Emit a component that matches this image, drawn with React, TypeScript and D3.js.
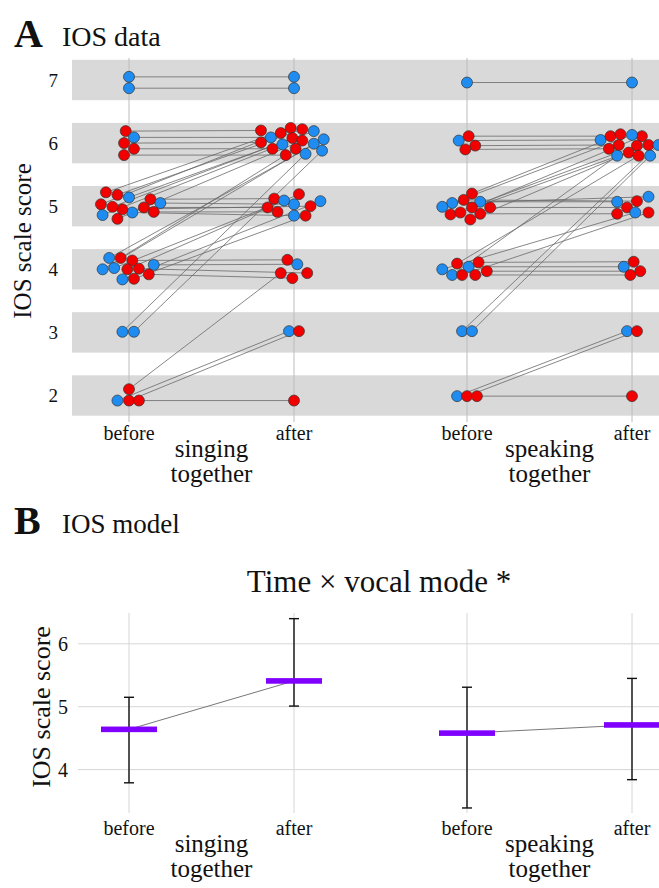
import React from 'react';
import * as d3 from 'd3';

// participant rows: [group, before score, before jitter, after score, after jitter]
// scores carry the vertical jitter seen in the figure, jitter is in units of the before/after spacing
type Row = [string, number, number, number, number];

const singingRows: Row[] = [
  ['b', 7.05, 0, 7.05, 0],
  ['b', 6.87, 0, 6.87, 0],
  ['r', 6.19, -0.02, 6.20, -0.20],
  ['b', 6.09, 0.03, 6.09, -0.14],
  ['r', 6.00, -0.03, 6.01, -0.20],
  ['r', 5.91, 0.03, 5.91, -0.13],
  ['r', 5.81, -0.03, 5.81, -0.05],
  ['r', 5.11, 0.13, 5.12, -0.12],
  ['b', 5.05, 0.19, 5.03, 0.00],
  ['r', 4.91, 0.15, 4.91, -0.10],
  ['r', 4.98, 0.09, 4.98, -0.16],
  ['b', 4.90, 0.02, 4.85, 0.00],
  ['r', 4.95, -0.04, 5.00, 0.10],
  ['r', 5.22, -0.14, 6.24, -0.02],
  ['r', 5.18, -0.07, 6.22, 0.05],
  ['b', 5.14, 0.00, 6.19, 0.12],
  ['r', 5.03, -0.17, 6.16, -0.08],
  ['r', 4.99, -0.10, 6.08, -0.01],
  ['b', 4.86, -0.16, 5.98, -0.07],
  ['r', 4.80, -0.07, 6.04, 0.05],
  ['b', 4.07, 0.15, 4.08, 0.02],
  ['r', 4.14, 0.02, 4.15, -0.04],
  ['r', 4.01, 0.06, 3.94, 0.08],
  ['r', 3.92, 0.12, 3.86, -0.01],
  ['b', 4.18, -0.12, 6.06, 0.18],
  ['r', 4.18, -0.05, 5.91, 0.01],
  ['b', 4.00, -0.16, 5.99, 0.12],
  ['b', 4.02, -0.09, 5.09, -0.06],
  ['r', 4.00, -0.01, 5.19, 0.03],
  ['b', 3.84, -0.04, 5.08, 0.16],
  ['r', 3.85, 0.03, 4.85, 0.07],
  ['b', 3.01, -0.04, 5.83, 0.07],
  ['b', 3.01, 0.03, 5.88, 0.17],
  ['b', 1.92, -0.07, 3.02, -0.03],
  ['r', 2.10, 0, 3.94, -0.08],
  ['r', 1.92, 0, 3.02, 0.03],
  ['r', 1.92, 0.06, 1.92, 0],
];

const speakingRows: Row[] = [
  ['b', 6.96, 0, 6.96, 0],
  ['b', 6.04, -0.05, 6.05, -0.19],
  ['r', 6.11, 0.01, 6.11, -0.13],
  ['r', 5.96, 0.05, 5.97, -0.08],
  ['r', 5.90, -0.01, 5.91, -0.14],
  ['b', 5.07, 0.08, 5.07, -0.09],
  ['b', 5.05, -0.09, 5.15, 0.10],
  ['r', 4.98, 0.14, 4.98, -0.03],
  ['r', 5.10, -0.02, 5.08, 0.03],
  ['r', 4.88, 0.08, 4.88, -0.09],
  ['r', 5.20, 0.03, 6.14, -0.07],
  ['r', 4.98, 0.03, 6.11, 0.06],
  ['r', 4.87, -0.10, 5.96, 0.03],
  ['r', 4.90, -0.04, 5.97, 0.10],
  ['r', 4.79, 0.02, 5.85, -0.02],
  ['b', 4.99, -0.15, 6.13, 0.00],
  ['b', 4.04, 0.01, 4.04, -0.05],
  ['r', 4.11, 0.07, 4.12, 0.01],
  ['r', 3.97, 0.12, 3.97, 0.05],
  ['r', 3.91, 0.05, 3.91, -0.01],
  ['b', 4.00, -0.15, 4.90, 0.02],
  ['r', 4.09, -0.06, 5.80, 0.04],
  ['b', 3.91, -0.09, 5.80, -0.09],
  ['r', 3.91, -0.03, 4.90, 0.10],
  ['b', 3.02, -0.03, 5.97, 0.16],
  ['b', 3.02, 0.03, 5.80, 0.11],
  ['b', 1.99, -0.06, 3.02, -0.03],
  ['r', 1.99, 0, 3.02, 0.03],
  ['r', 1.99, 0.06, 1.99, 0],
];

const modes = ['singing', 'speaking'];
const modeLabels = [['singing', 'together'], ['speaking', 'together']];
const times = ['before', 'after'];
const levels = [2, 3, 4, 5, 6, 7];
const modelTicks = [4, 5, 6];

// model estimates: [mean, lower, upper] per mode, before / after
const modelSinging = [[4.64, 3.79, 5.15], [5.41, 5.01, 6.40]];
const modelSpeaking = [[4.58, 3.39, 5.31], [4.71, 3.84, 5.45]];

const FONT = "'Liberation Serif', 'Times New Roman', serif";
const colors: Record<string, string> = { b: '#1e8cf0', r: '#f20000' };

const W = 659;
const H = 888;

const xMode = d3.scalePoint().domain(modes).range([211.5, 549.5]);
const xTime = d3.scalePoint().domain(times).range([-82.5, 82.5]);
const step = 165;
const xPos = (m: string, t: string, jit = 0) => (xMode(m) as number) + (xTime(t) as number) + jit * step;

const yA = d3.scaleLinear().domain([2, 7]).range([395.5, 80]);
const yB = d3.scaleLinear().domain([3.31, 6.49]).range([813, 613]);

function PanelA() {
  const rowsByMode: [string, Row[]][] = [['singing', singingRows], ['speaking', speakingRows]];
  return (
    <g>
      {levels.map(l => (
        <rect key={l} x={72} width={W - 72} y={yA(l + 0.32)} height={yA(l - 0.32) - yA(l + 0.32)} fill="#d9d9d9" />
      ))}
      {modes.map(m => times.map(t => (
        <line key={m + t} x1={xPos(m, t)} x2={xPos(m, t)} y1={58} y2={422} stroke="#bcbcbc" strokeWidth={1} />
      )))}
      {rowsByMode.map(([m, rows]) => (
        <g key={m}>
          {rows.map((r, i) => (
            <line key={'l' + i} x1={xPos(m, 'before', r[2])} y1={yA(r[1])} x2={xPos(m, 'after', r[4])} y2={yA(r[3])}
              stroke="#6a6a6a" strokeWidth={0.8} />
          ))}
          {rows.map((r, i) => (
            <g key={'p' + i}>
              <circle cx={xPos(m, 'before', r[2])} cy={yA(r[1])} r={5.5} fill={colors[r[0]]} stroke="#333" strokeWidth={0.7} />
              <circle cx={xPos(m, 'after', r[4])} cy={yA(r[3])} r={5.5} fill={colors[r[0]]} stroke="#333" strokeWidth={0.7} />
            </g>
          ))}
        </g>
      ))}
      {levels.map(l => (
        <text key={l} x={58} y={yA(l)} dy="0.35em" textAnchor="end" fontSize={19}>{l}</text>
      ))}
      <text transform={`translate(31,241) rotate(-90)`} textAnchor="middle" fontSize={25}>IOS scale score</text>
      {modes.map((m, k) => (
        <g key={m}>
          {times.map(t => (
            <text key={t} x={xPos(m, t)} y={440} textAnchor="middle" fontSize={20}>{t}</text>
          ))}
          <text x={xMode(m)} y={457} textAnchor="middle" fontSize={25}>{modeLabels[k][0]}</text>
          <text x={xMode(m)} y={482} textAnchor="middle" fontSize={25}>{modeLabels[k][1]}</text>
        </g>
      ))}
    </g>
  );
}

function PanelB() {
  const est: [string, number[][]][] = [['singing', modelSinging], ['speaking', modelSpeaking]];
  return (
    <g>
      {modelTicks.map(v => (
        <line key={v} x1={78} x2={W} y1={yB(v)} y2={yB(v)} stroke="#d6d6d6" strokeWidth={1} />
      ))}
      {modes.map(m => times.map(t => (
        <line key={m + t} x1={xPos(m, t)} x2={xPos(m, t)} y1={613} y2={813} stroke="#d6d6d6" strokeWidth={1} />
      )))}
      {est.map(([m, vals]) => (
        <g key={m}>
          <line x1={xPos(m, 'before')} y1={yB(vals[0][0])} x2={xPos(m, 'after')} y2={yB(vals[1][0])} stroke="#777" strokeWidth={1} />
          {times.map((t, i) => {
            const x = xPos(m, t);
            const [mean, lo, hi] = vals[i];
            return (
              <g key={t}>
                <line x1={x} x2={x} y1={yB(lo)} y2={yB(hi)} stroke="#111" strokeWidth={1.4} />
                <line x1={x - 5} x2={x + 5} y1={yB(lo)} y2={yB(lo)} stroke="#111" strokeWidth={1.4} />
                <line x1={x - 5} x2={x + 5} y1={yB(hi)} y2={yB(hi)} stroke="#111" strokeWidth={1.4} />
                <rect x={x - 28} width={56} y={yB(mean) - 2.8} height={5.6} fill="#8000ff" />
              </g>
            );
          })}
        </g>
      ))}
      {modelTicks.map(v => (
        <text key={v} x={68} y={yB(v)} dy="0.35em" textAnchor="end" fontSize={20}>{v}</text>
      ))}
      <text transform={`translate(50,707) rotate(-90)`} textAnchor="middle" fontSize={26}>IOS scale score</text>
      <text x={379} y={592} textAnchor="middle" fontSize={31}>Time × vocal mode *</text>
      {modes.map((m, k) => (
        <g key={m}>
          {times.map(t => (
            <text key={t} x={xPos(m, t)} y={835} textAnchor="middle" fontSize={20}>{t}</text>
          ))}
          <text x={xMode(m)} y={852} textAnchor="middle" fontSize={25}>{modeLabels[k][0]}</text>
          <text x={xMode(m)} y={877} textAnchor="middle" fontSize={25}>{modeLabels[k][1]}</text>
        </g>
      ))}
    </g>
  );
}

export default function App() {
  return (
    <svg width={W} height={H} style={{ position: 'absolute', left: 0, top: 0, background: '#fff' }}
      fontFamily={FONT} fill="#111">
      <text x={14} y={47} fontSize={40} fontWeight="bold">A</text>
      <text x={62} y={46} fontSize={28}>IOS data</text>
      <PanelA />
      <text x={14} y={534} fontSize={40} fontWeight="bold">B</text>
      <text x={62} y={533} fontSize={27}>IOS model</text>
      <PanelB />
    </svg>
  );
}
